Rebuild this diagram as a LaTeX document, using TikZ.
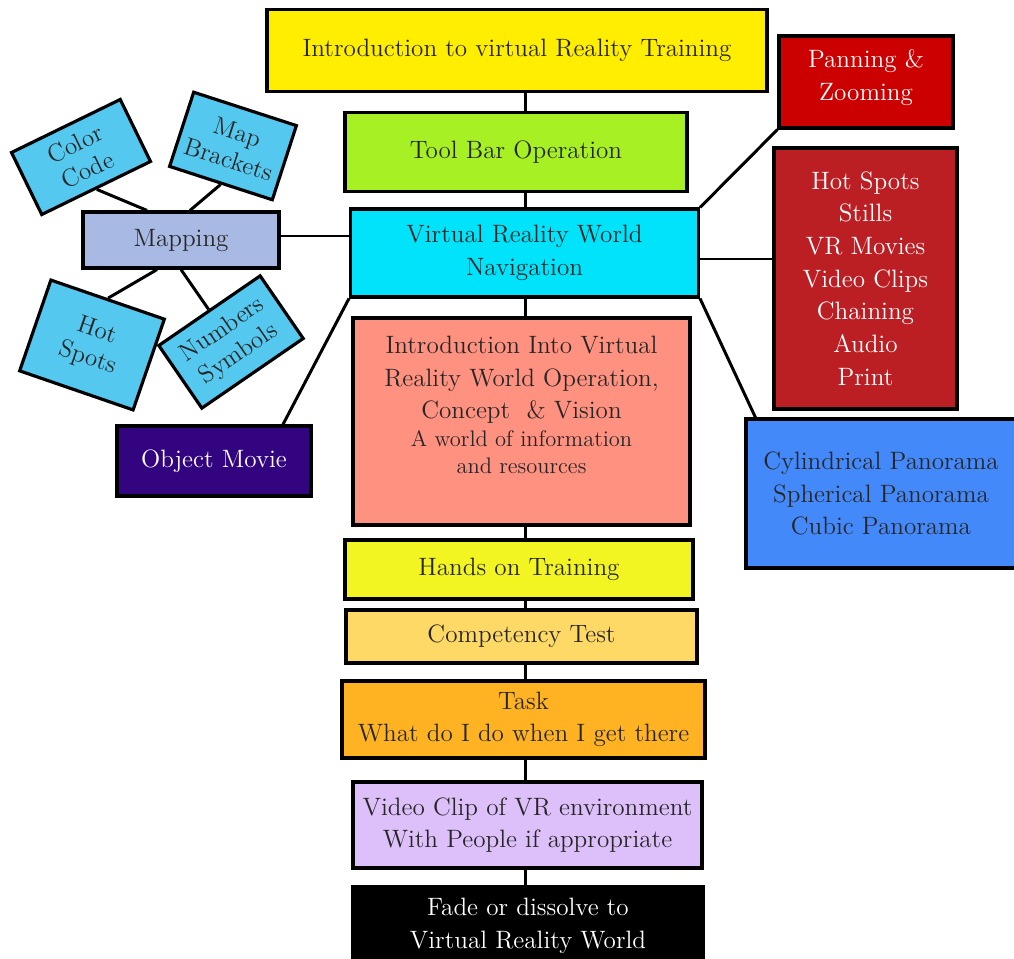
\documentclass[tikz,border=0pt]{standalone}
\usepackage{tikz}
\usetikzlibrary{calc}
\definecolor{introyellow}{HTML}{FFEE00}
\definecolor{toolgreen}{HTML}{A6F023}
\definecolor{navcyan}{HTML}{00E3FA}
\definecolor{conceptsalmon}{HTML}{FF9180}
\definecolor{handsyellow}{HTML}{F3F523}
\definecolor{testyellow}{HTML}{FFD966}
\definecolor{taskorange}{HTML}{FFB323}
\definecolor{cliplilac}{HTML}{DDBFFA}
\definecolor{panred}{HTML}{CC0000}
\definecolor{featred}{HTML}{BB1F24}
\definecolor{panoblue}{HTML}{4489FA}
\definecolor{mapblue}{HTML}{A8B9E3}
\definecolor{tagblue}{HTML}{55C8F0}
\definecolor{moviepurple}{HTML}{330480}
\tikzset{
  box/.style={draw,line width=1.8pt,align=center,inner sep=2pt,text=black!85,
    font=\fontsize{14.3}{18.6}\selectfont},
  tag/.style={box,fill=tagblue,font=\fontsize{14.2}{16.5}\selectfont},
  link/.style={line width=1.7pt}
}

\begin{document}
\begin{tikzpicture}[x=0.02cm,y=-0.02cm]
  \useasboundingbox (0,0) rectangle (1014,959);
  \coordinate (spine) at (525,0);
  % main column
  \node[box,fill=introyellow,minimum width=10cm,minimum height=1.64cm] (intro) at (517,50.5) {Introduction to virtual Reality Training};
  \node[box,fill=toolgreen,minimum width=6.84cm,minimum height=1.58cm] (toolbar) at (516,152) {Tool Bar Operation};
  \node[box,fill=navcyan,minimum width=6.96cm,minimum height=1.76cm] (vrwn) at (524.5,253) {Virtual Reality World\\Navigation};
  \node[box,fill=conceptsalmon,minimum width=6.74cm,minimum height=4.14cm,text depth=19pt] (concept) at (521.5,421.5)
    {Introduction Into Virtual\\Reality World Operation,\\Concept~~\& Vision\\[-3pt]
     {\fontsize{12.8}{15}\selectfont A world of information}\\[-3pt]{\fontsize{12.8}{15}\selectfont and resources}};
  \node[box,fill=handsyellow,minimum width=6.96cm,minimum height=1.18cm] (hands) at (519,569.5) {Hands on Training};
  \node[box,fill=testyellow,minimum width=7.02cm,minimum height=1.06cm] (comptest) at (521.5,636.5) {Competency Test};
  \node[box,fill=taskorange,minimum width=7.26cm,minimum height=1.54cm] (task) at (523.5,719.5) {Task\\What do I do when I get there};
  \node[box,fill=cliplilac,minimum width=6.98cm,minimum height=1.72cm] (videoclip) at (527.5,825) {Video Clip of VR environment\\With People if appropriate};
  \node[box,fill=black,text=white,minimum width=7cm,minimum height=1.56cm] (fade) at (528,926) {Fade or dissolve to\\Virtual Reality World};
  % right side
  \node[box,fill=panred,text=white,minimum width=3.48cm,minimum height=1.84cm,text depth=8pt] (panning) at (866,82) {Panning \&\\Zooming};
  \node[box,fill=featred,text=white,minimum width=3.66cm,minimum height=5.22cm] (features) at (865.5,278.5)
    {Hot Spots\\Stills\\VR Movies\\Video Clips\\Chaining\\Audio\\Print};
  \node[box,fill=panoblue,minimum width=5.4cm,minimum height=2.98cm] (panorama) at (881,493.5)
    {Cylindrical Panorama\\Spherical Panorama\\Cubic Panorama};
  % left side
  \node[box,fill=mapblue,minimum width=3.92cm,minimum height=1.12cm] (mapping) at (181,240) {Mapping};
  \node[box,fill=moviepurple,text=white,minimum width=3.88cm,minimum height=1.4cm] (objmovie) at (214,461) {Object Movie};
  \node[tag,rotate=26,minimum width=2.42cm,minimum height=1.38cm] (colorcode) at (81,157) {Color\\Code};
  \node[tag,rotate=-18,minimum width=2.16cm,minimum height=1.56cm] (mapbrackets) at (233,146) {Map\\Brackets};
  \node[tag,rotate=-19,minimum width=2.4cm,minimum height=1.92cm] (hotspots) at (92,345) {Hot\\Spots};
  \node[tag,rotate=34.5,minimum width=2.46cm,minimum height=1.52cm] (numsymbols) at (231,342) {Numbers\\Symbols};
  % connectors
  \foreach \a/\b in {intro/toolbar,toolbar/vrwn,vrwn/concept,concept/hands,hands/comptest,comptest/task,task/videoclip,videoclip/fade}
    \draw[link] (\a.south -| spine) -- (\b.north -| spine);
  \draw[link] ([yshift=0.08cm]mapping.east) -- ([yshift=0.08cm]mapping.east -| vrwn.west);
  \draw[link] (colorcode.south) -- ($(mapping.north)+(-34,0)$);
  \draw[link] (mapbrackets.south) -- ($(mapping.north)+(9,0)$);
  \draw[link] (hotspots.north) -- ($(mapping.south)+(-24,0)$);
  \draw[link] (numsymbols.north) -- (mapping.south);
  \draw[link] ($(objmovie.north)+(69,0)$) -- (vrwn.south west);
  \draw[link] (vrwn.north east) -- (panning.south west);
  \draw[link] ([yshift=-0.12cm]vrwn.east) -- ([yshift=-0.12cm]vrwn.east -| features.west);
  \draw[link] (vrwn.south east) -- ($(panorama.north west)+(11,0)$);
\end{tikzpicture}
\end{document}
